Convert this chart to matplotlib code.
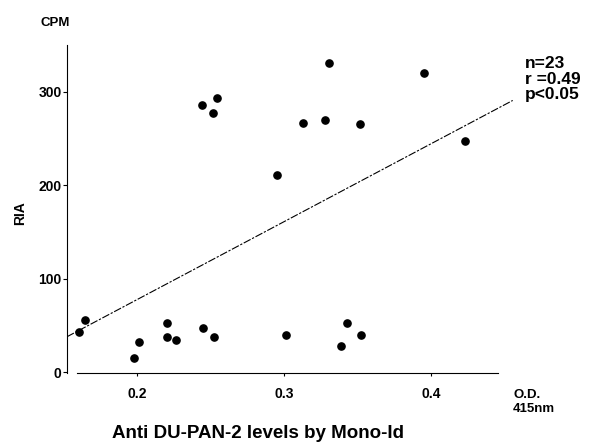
#!/usr/bin/env python3

# Import special modules ...
import matplotlib
matplotlib.use("Agg")
import matplotlib.pyplot

# Configure matplotlib ...
matplotlib.pyplot.rcParams.update({"font.family" : ["Liberation Sans", "DejaVu Sans"], "font.weight" : "bold"})

# ******************************************************************************

# Data (O.D. at 415nm vs. RIA CPM) ...
od = [0.1608, 0.1648, 0.1982, 0.2011, 0.2202, 0.2202, 0.2265, 0.2447, 0.2526,
      0.3016, 0.3386, 0.3431, 0.3526,
      0.2442, 0.2546, 0.2515, 0.3306, 0.3954, 0.3129, 0.3277, 0.3519, 0.4229, 0.2950]
cpm = [43.2, 55.7, 15.0, 32.1, 52.8, 37.8, 34.3, 47.1, 37.8,
       39.6, 28.2, 52.5, 39.6,
       285.8, 293.6, 277.2, 330.8, 320.0, 266.5, 270.0, 265.0, 247.8, 210.8]

# Regression line as drawn (slope, intercept) and its x-range ...
slope = 834.0
intercept = -89.3
lineX = [0.1524, 0.4556]

xticks = [0.2, 0.3, 0.4]
yticks = [0, 100, 200, 300]
stats = "n=23\nr =0.49\np<0.05"

# ******************************************************************************

# Create plot ...
fg = matplotlib.pyplot.figure(figsize = (5.91, 4.46), dpi = 100)
ax = fg.add_axes([0.1134, 0.1637, 0.7651, 0.7354])

# Add points and regression line ...
ax.plot(od, cpm, "o", color = "black", markersize = 5.2, linestyle = "none")
ax.plot(lineX, [slope * x + intercept for x in lineX], color = "black", linewidth = 0.8, linestyle = (0, (7, 1.5, 2, 1.5)))

# Configure axes ...
ax.set_xlim(0.1524, 0.46)
ax.set_ylim(-1.0, 350.0)
ax.spines["top"].set_visible(False)
ax.spines["right"].set_visible(False)
ax.spines["bottom"].set_bounds(0.159, 0.4456)
ax.set_xticks(xticks)
ax.set_xticklabels(["{:.1f}".format(x) for x in xticks], fontsize = 10, fontweight = "bold")
ax.set_yticks(yticks)
ax.set_yticklabels(["{:d}".format(y) for y in yticks], fontsize = 10, fontweight = "bold")
ax.tick_params(axis = "x", length = 2, pad = 8)
ax.tick_params(axis = "y", length = 3, pad = 1)

# Add labels ...
fg.text(55 / 591, 1 - 22.5 / 446, "CPM", fontsize = 9.5, fontweight = "bold", ha = "center", va = "center")
fg.text(20 / 591, 1 - 213 / 446, "RIA", fontsize = 10, fontweight = "bold", ha = "center", va = "center", rotation = 90)
fg.text(513 / 591, 1 - 402 / 446, "O.D.\n415nm", fontsize = 9.5, fontweight = "bold", ha = "left", va = "center", linespacing = 1.25)
fg.text(112 / 591, 1 - 433 / 446, "Anti DU-PAN-2 levels by Mono-Id", fontsize = 13.5, fontweight = "bold", ha = "left", va = "center")
fg.text(525 / 591, 1 - 79 / 446, stats, fontsize = 12.5, fontweight = "bold", ha = "left", va = "center", linespacing = 1.0)

# Save plot ...
fg.savefig("out.png", dpi = 100)
matplotlib.pyplot.close(fg)
